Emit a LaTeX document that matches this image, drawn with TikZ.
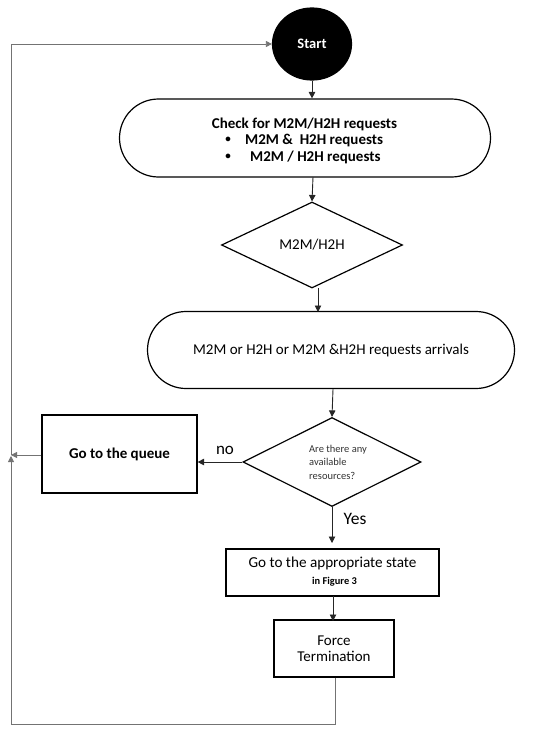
\documentclass[tikz,border=0pt]{standalone}
\usepackage{fontspec}
\setmainfont{Carlito}
\usetikzlibrary{shapes.geometric,shapes.misc,arrows.meta}
\begin{document}
\begin{tikzpicture}[x=1pt,y=-1pt,
  shp/.style={draw=black,line width=1.2pt,inner sep=0pt},
  txt/.style={inner sep=0pt},
  arr/.style={-{Triangle[length=6.5pt,width=6.5pt]},line width=0.9pt,draw=black!85},
  loopline/.style={line width=0.8pt,draw=black!55}]
\useasboundingbox (0,0) rectangle (550,736);
\node[shp,ellipse,fill=black,minimum width=79pt,minimum height=72pt,text=white,font=\bfseries\fontsize{14.5}{16}\selectfont] (start) at (312,44) {Start};
\node[shp,rounded rectangle,minimum width=371pt,minimum height=78pt] (check) at (305,138) {};
\node[txt,font=\bfseries\fontsize{15}{17}\selectfont] (c1) at (304.5,124) {Check for M2M/H2H requests};
\node[txt,font=\bfseries\fontsize{11}{12}\selectfont] (b1) at (228,140) {\textbullet};
\node[txt,font=\bfseries\fontsize{15}{17}\selectfont,anchor=west] (c2) at (245,140) {M2M \&\ \ H2H requests};
\node[txt,font=\bfseries\fontsize{11}{12}\selectfont] (b2) at (228,157) {\textbullet};
\node[txt,font=\bfseries\fontsize{15}{17}\selectfont,anchor=west] (c3) at (250,157) {M2M / H2H requests};
\node[shp,diamond,minimum width=181pt,minimum height=86pt,aspect=2.1] (d1) at (312,245) {};
\node[txt,font=\fontsize{15}{17}\selectfont] (d1t) at (312,245) {M2M/H2H};
\node[shp,rounded rectangle,minimum width=367pt,minimum height=77pt,font=\fontsize{15}{17}\selectfont] (arrv) at (331,350) {M2M or H2H or M2M \&H2H requests arrivals};
\node[shp,diamond,minimum width=178pt,minimum height=89pt,aspect=2] (d2) at (332,462) {};
\node[txt,font=\fontsize{10.5}{13.5}\selectfont,align=left,text=black!80] (d2t) at (338,462) {Are there any\\available\\resources?};
\node[shp,rectangle,minimum width=155pt,minimum height=78pt,font=\bfseries\fontsize{15}{17}\selectfont] (queue) at (119.5,454) {Go to the queue};
\node[shp,rectangle,minimum width=213pt,minimum height=47pt] (state) at (332.5,572.5) {};
\node[txt,font=\fontsize{15.2}{17}\selectfont] (statet) at (332.5,563) {Go to the appropriate state};
\node[txt,font=\bfseries\fontsize{10.4}{12}\selectfont] (statef) at (334.5,582) {in Figure 3};
\node[shp,rectangle,minimum width=120pt,minimum height=57pt,align=center,font=\fontsize{15}{16}\selectfont] (force) at (334,648.5) {Force\\Termination};
\node[txt,font=\fontsize{17}{18}\selectfont] (no) at (225,450) {no};
\node[txt,font=\fontsize{17.5}{18}\selectfont] (yes) at (355,519) {Yes};
\coordinate (tl) at (11,44);
\coordinate (ml) at (11,455);
\coordinate (bl) at (11,724);
\coordinate (br) at (335,724);
\draw[arr] (start.south) -- (start.south |- check.north);
\draw[arr] (313,177) -- (d1.north);
\draw[arr] (318,288) -- (318,312);
\draw[arr] (333,389) -- (d2.north);
\draw[arr] (d2.west) -- (d2.west -| queue.east);
\draw[arr] (d2.south) -- (332,543);
\draw[arr] (333,596) -- (333,621);
\draw[loopline,-{Triangle[length=6pt,width=6pt]}] (queue.west |- ml) -- (ml);
\draw[loopline] (force.south -| br) -- (br) -- (bl) -- (11,460);
\draw[loopline,-{Triangle[length=6pt,width=6pt]}] (11,470) -- (11,456);
\draw[loopline,-{Triangle[length=6pt,width=6pt]}] (ml) -- (tl) -- (start.west);
\end{tikzpicture}
\end{document}
